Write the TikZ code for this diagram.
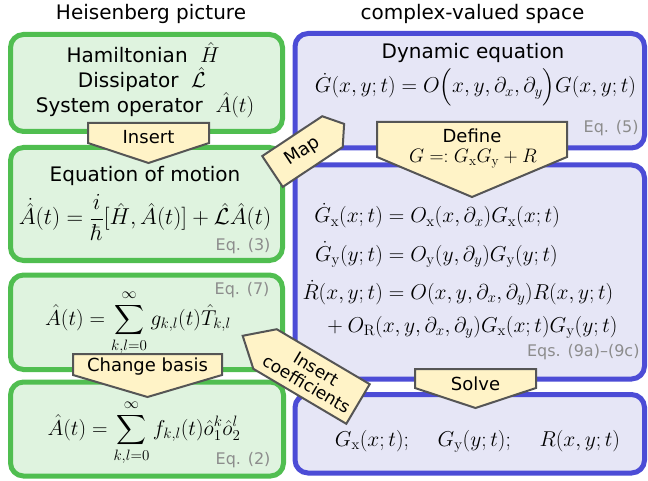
\RequirePackage{fix-cm}
\documentclass[tikz,border=0pt]{standalone}
\usepackage{amsmath}
\usepackage[no-math]{fontspec}
\setmainfont{DejaVu Sans}
\usepackage{tikz}

\definecolor{heisline}{RGB}{80,190,80}
\definecolor{heisfill}{RGB}{223,243,223}
\definecolor{cplxline}{RGB}{76,76,214}
\definecolor{cplxfill}{RGB}{230,230,246}
\definecolor{tagline}{RGB}{85,85,85}
\definecolor{tagfill}{RGB}{255,243,199}
\definecolor{eqgray}{RGB}{140,140,140}

\newcommand{\eqsize}{\fontsize{21.5}{26}\selectfont}

\begin{document}
\begin{tikzpicture}[x=1pt, y=-1pt, line width=5pt,
    gbox/.style={draw=heisline, fill=heisfill, rounded corners=13pt},
    bbox/.style={draw=cplxline, fill=cplxfill, rounded corners=13pt},
    tagbox/.style={draw=tagline, fill=tagfill, line width=2pt},
    tagtext/.style={font=\fontsize{18}{20}\selectfont, inner sep=0pt},
    txt/.style={font=\fontsize{20}{24}\selectfont, inner sep=0pt},
    mathtxt/.style={font=\eqsize, inner sep=0pt},
    eqlabel/.style={font=\fontsize{16}{19}\selectfont, text=eqgray, inner sep=0pt, anchor=east}]
        \useasboundingbox (0,0) rectangle (648,481);

        % Column titles
        \node[txt, anchor=base] (heis) at (151,20) {Heisenberg picture};
        \node[txt, anchor=base] (cplx) at (472.5,20) {complex-valued space};

        % Heisenberg column
        \draw[gbox] (10.5,34.5) rectangle (282.5,131.5);
        \node[txt, anchor=base] (ham) at (143,63) {Hamiltonian\ \ {\eqsize$\hat{H}$}};
        \node[txt, anchor=base] (diss) at (142,88) {Dissipator\ \ {\eqsize$\hat{\mathcal{L}}$}};
        \node[txt, anchor=base] (sysop) at (145,113) {System operator\ \ {\eqsize$\hat{A}(t)$}};

        \draw[gbox] (10.5,147.5) rectangle (282.5,260.5);
        \node[txt, anchor=base] (eom) at (145,182) {Equation of motion};
        \node[mathtxt, anchor=base, font=\fontsize{23}{27}\selectfont] (eomeq) at (145,225)
            {$\dot{\hat{A}}(t) = \dfrac{i}{\hbar}[\hat{H}, \hat{A}(t)] + \hat{\mathcal{L}}\hat{A}(t)$};
        \node[eqlabel] (eq3) at (273,246) {Eq. (3)};

        \draw[gbox] (10.5,275) rectangle (282.5,369.5);
        \node[eqlabel] (eq7) at (272,290) {Eq. (7)};
        \node[mathtxt, anchor=base] (tbasis) at (138,325)
            {$\displaystyle \hat{A}(t) = \sum_{k,l=0}^{\infty} g_{k,l}(t)\hat{T}_{k,l}$};

        \draw[gbox] (10.5,382) rectangle (283.5,476);
        \node[mathtxt, anchor=base] (obasis) at (144,435)
            {$\displaystyle \hat{A}(t) = \sum_{k,l=0}^{\infty} f_{k,l}(t)\hat{o}_1^k\hat{o}_2^l$};
        \node[eqlabel] (eq2) at (273,460) {Eq. (2)};

        % Complex-valued column
        \draw[bbox] (295,33.5) rectangle (644.5,148);
        \node[txt, anchor=base] (dyn) at (473,59) {Dynamic equation};
        \node[mathtxt, anchor=base] (dyneq) at (475.5,93)
            {$\dot{G}(x,y;t) = O\Big(x, y, \partial_x, \partial_y\Big)G(x,y;t)$};
        \node[eqlabel] (eq5) at (641,128) {Eq. (5)};

        \draw[bbox] (295,165) rectangle (644.5,379);
        \node[mathtxt, anchor=base west] (spliteq) at (300,223)
            {$\begin{aligned}[t]
                \dot{G}_\mathrm{x}(x;t) &= O_\mathrm{x}(x,\partial_x)G_\mathrm{x}(x;t)\\[7pt]
                \dot{G}_\mathrm{y}(y;t) &= O_\mathrm{y}(y,\partial_y)G_\mathrm{y}(y;t)\\[7pt]
                \dot{R}(x,y;t) &= O(x,y,\partial_x,\partial_y)R(x,y;t)\\[4pt]
                &\hspace{-2.8em}{}+ O_\mathrm{R}(x,y,\partial_x,\partial_y)G_\mathrm{x}(x;t)G_\mathrm{y}(y;t)
            \end{aligned}$};
        \node[eqlabel] (eq9) at (642,352) {Eqs. (9a)--(9c)};

        \draw[bbox] (295,394.5) rectangle (644.5,473);
        \node[mathtxt, anchor=base] (sol) at (477.5,446)
            {$G_\mathrm{x}(x;t);\quad\, G_\mathrm{y}(y;t);\quad\, R(x,y;t)$};

        % Arrows
        \draw[tagbox] (88,123) -- (209,123) -- (209,143) -- (148.5,163) -- (88,143) -- cycle;
        \node[tagtext] (insert) at (148.5,137) {Insert};

        \draw[tagbox] (73,354) -- (222,354) -- (222,375) -- (147.5,397) -- (73,375) -- cycle;
        \node[tagtext] (change) at (147.5,367) {Change basis};

        \draw[tagbox] (377,122) -- (567,122) -- (567,157) -- (472,197) -- (377,157) -- cycle;
        \node[tagtext] (define) at (472,136) {Define};
        \node[tagtext, anchor=base, font=\fontsize{19.5}{22}\selectfont] (defeq) at (473,163) {$G =: G_\mathrm{x}G_\mathrm{y} + R$};

        \draw[tagbox] (415,369) -- (536,369) -- (536,388) -- (475.5,408) -- (415,388) -- cycle;
        \node[tagtext] (solve) at (475.5,384) {Solve};

        \begin{scope}[shift={(272.5,171.5)}, rotate=33.6]
            \draw[tagbox] (0,-18.5) -- (72,-18.5) -- (86,0) -- (72,18.5) -- (0,18.5) -- cycle;
            \node[tagtext, rotate=33.6] (map) at (36,0) {Map};
        \end{scope}

        \begin{scope}[shift={(358,404)}, rotate=149.4]
            \draw[tagbox] (0,-23) -- (108,-23) -- (134,0) -- (108,23) -- (0,23) -- cycle;
            \node[tagtext, rotate=-30.6, align=center, font=\fontsize{17}{18}\selectfont] (coef) at (54,0) {Insert\\coefficients};
        \end{scope}
    \end{tikzpicture}
\end{document}
